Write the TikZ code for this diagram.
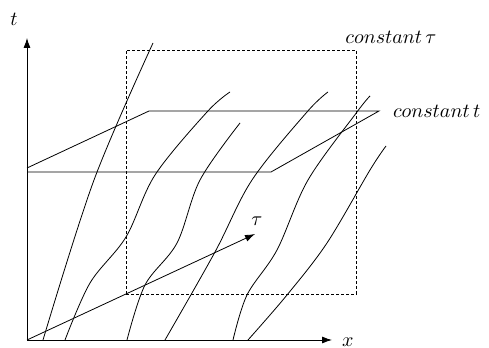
\documentclass[tikz,border=0pt]{standalone}
\usepackage{amsmath}
\usepackage{tikz}
\usetikzlibrary{arrows.meta, positioning}

\begin{document}
\begin{tikzpicture}[x=0.5pt, y=0.5pt,
                axisline/.style={-{Latex[length=5pt, width=3.5pt]}},
                worldline/.style={smooth, tension=0.55},
                frame/.style={dash pattern=on 1.5pt off 1pt}]
    \useasboundingbox (-27,-8) rectangle (462,340);

    % axes
    \coordinate (o) at (0,0);
    \coordinate (ttip) at (0,302);
    \coordinate (xtip) at (305,0);
    \coordinate (tautip) at (228,106);
    \draw[axisline] (o) -- (ttip);
    \draw[axisline] (o) -- (xtip);
    \draw[axisline] (o) -- (tautip);
    \node (tlab) at (-13,321) {$t$};
    \node[right=1.5pt of xtip, yshift=-1pt] (xlab) {$x$};
    \node[above=0.5pt of tautip, xshift=1pt] (taulab) {$\tau$};

    % constant tau
    \draw[frame] (99,46) rectangle (329,290);
    \node (ctaulab) at (364,303) {$constant\,\tau$};

    % constant t
    \draw (0,168) -- (244,168) -- (352,229) coordinate (pc) -- (122,229) -- (0,172);
    \node[right=3.5pt of pc] (ctlab) {$constant\,t$};

    % world lines
    \draw plot[worldline] coordinates {(16,0) (67,160) (126,297)};
    \draw plot[worldline] coordinates {(38,0) (63,57) (99,103) (128,165) (180,228) (203,248)};
    \draw plot[worldline] coordinates {(100,0) (118,55) (150,97) (173,160) (213,217)};
    \draw plot[worldline] coordinates {(138,0) (188,88) (225,160) (280,228) (301,248)};
    \draw plot[worldline] coordinates {(206,0) (220,45) (250,90) (281,160) (330,228) (343,244)};
    \draw plot[worldline] coordinates {(221,0) (260,45) (300,97) (343,170) (359,194)};
\end{tikzpicture}
\end{document}
